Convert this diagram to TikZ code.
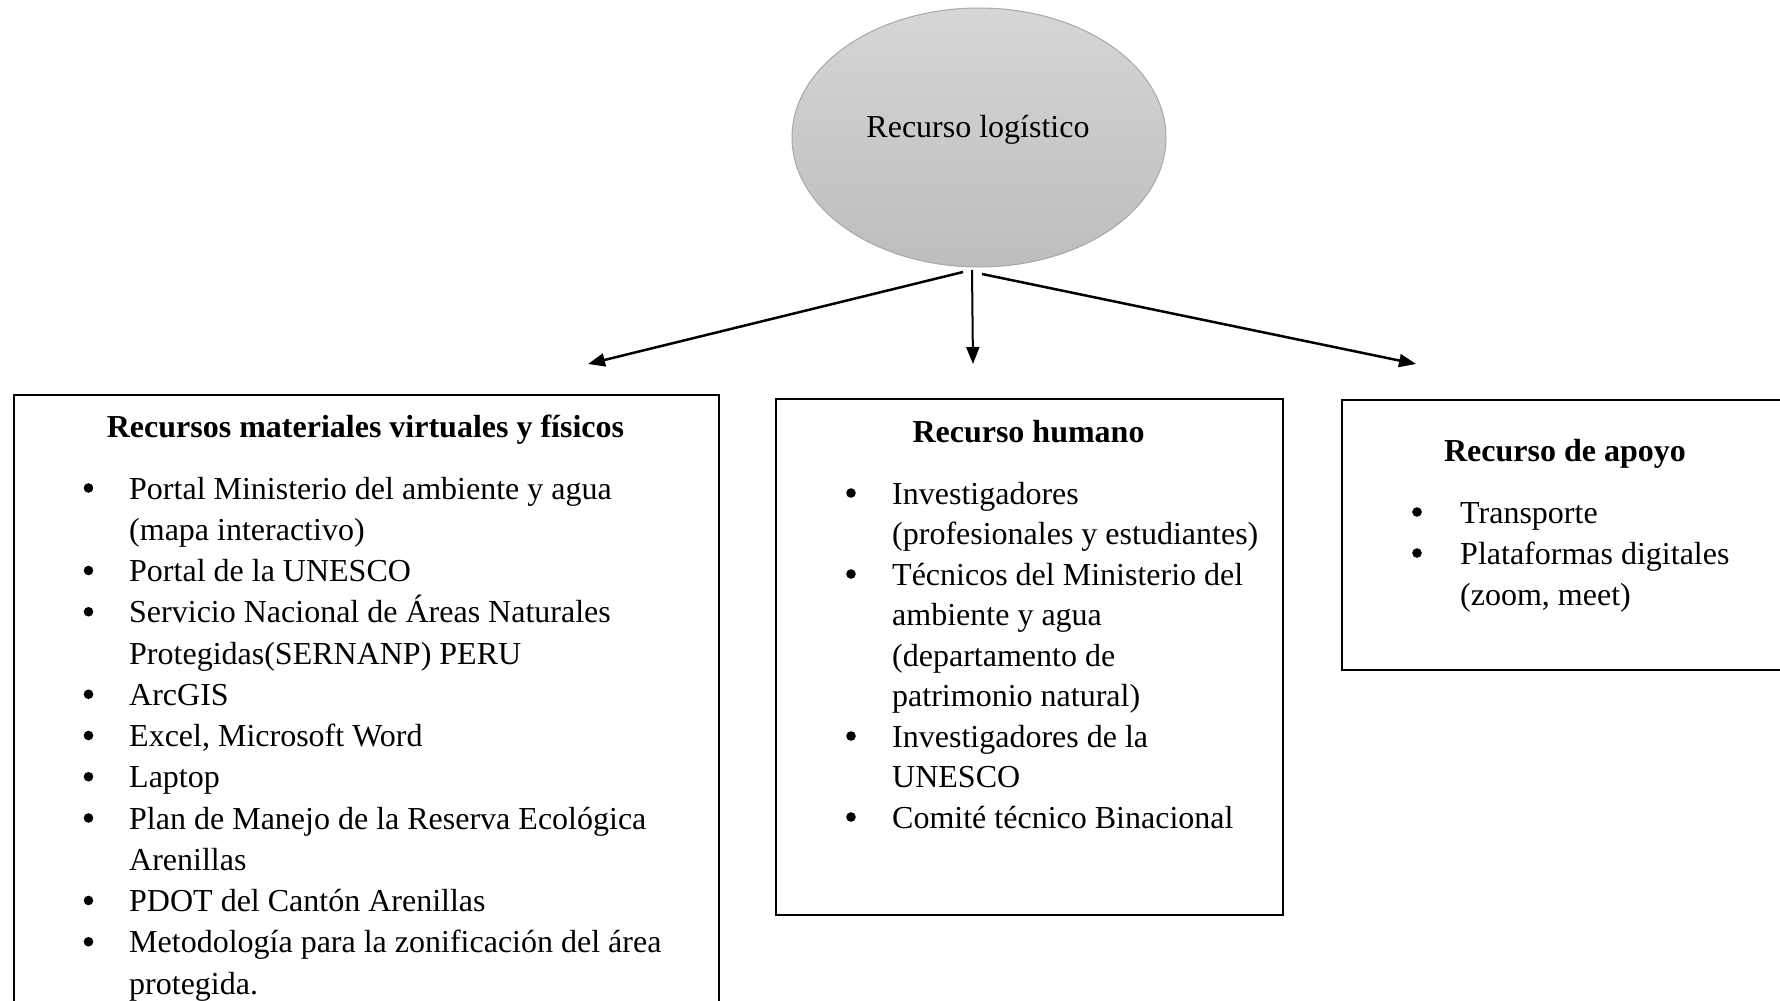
\documentclass[tikz,border=0pt]{standalone}
\usepackage{fontspec}
\setmainfont{Liberation Serif}
\usetikzlibrary{shapes.geometric,arrows.meta}
\definecolor{ellfillA}{HTML}{D6D6D6}
\definecolor{ellfillB}{HTML}{BDBDBD}
\definecolor{ellline}{HTML}{A8A8A8}
\tikzset{
  boxframe/.style={draw=black, line width=2.3pt, inner sep=0pt, anchor=north west},
  txt/.style={anchor=base west, inner sep=0pt, font=\fontsize{32}{40}\selectfont},
  ttl/.style={anchor=base, inner sep=0pt, font=\fontsize{32}{40}\selectfont\bfseries},
  conn/.style={line width=2.5pt, -{Triangle[length=17pt,width=13pt]}},
}
\begin{document}
\begin{tikzpicture}[x=1pt,y=-1pt]
\clip (0,0) rectangle (1780,1001);
\fill[white] (0,0) rectangle (1780,1001);

% ellipse
\node[ellipse, draw=ellline, line width=1pt, top color=ellfillA, bottom color=ellfillB,
      minimum width=374pt, minimum height=259pt, inner sep=0pt] (E) at (979,137.5) {};
\node[anchor=base, inner sep=0pt, font=\fontsize{32}{40}\selectfont] (Elab) at (978,137) {Recurso logístico};

% connector endpoints
\coordinate (s1) at (963,272);
\coordinate (s2) at (972,270);
\coordinate (s3) at (982,274);
\coordinate (t1) at (588,364);
\coordinate (t2) at (973,364);
\coordinate (t3) at (1416,364);
\draw[conn] (s1) -- (t1);
\draw[conn, line width=2pt] (s2) -- (t2);
\draw[conn] (s3) -- (t3);

% boxes
\node[boxframe, minimum width=705pt, minimum height=640pt] (B1) at (13,394) {};
\node[boxframe, minimum width=507pt, minimum height=516pt] (B2) at (775,398) {};
\node[boxframe, minimum width=460pt, minimum height=270pt] (B3) at (1341,399) {};

% titles
\node[ttl] (T1) at (365.5,437) {Recursos materiales virtuales y físicos};
\node[ttl] (T2) at (1028.5,442) {Recurso humano};
\node[ttl] (T3) at (1565,461) {Recurso de apoyo};

% left list
\foreach \b/\t [count=\i from 0] in {
  1/{Portal Ministerio del ambiente y agua},
  0/{(mapa interactivo)},
  1/{Portal de la UNESCO},
  1/{Servicio Nacional de Áreas Naturales},
  0/{Protegidas(SERNANP) PERU},
  1/{ArcGIS},
  1/{Excel, Microsoft Word},
  1/{Laptop},
  1/{Plan de Manejo de la Reserva Ecológica},
  0/{Arenillas},
  1/{PDOT del Cantón Arenillas},
  1/{Metodología para la zonificación del área},
  0/{protegida.}}{
  \pgfmathsetmacro{\yy}{499+41.25*\i}
  \node[txt] (L\i) at (129,\yy) {\t};
  \ifnum\b=1 \fill (88.5,\yy-11) circle (4.8); \fi
}

% middle list
\foreach \b/\t [count=\i from 0] in {
  1/{Investigadores},
  0/{(profesionales y estudiantes)},
  1/{Técnicos del Ministerio del},
  0/{ambiente y agua},
  0/{(departamento de},
  0/{patrimonio natural)},
  1/{Investigadores de la},
  0/{UNESCO},
  1/{Comité técnico Binacional}}{
  \pgfmathsetmacro{\yy}{504+40.5*\i}
  \node[txt] (M\i) at (892,\yy) {\t};
  \ifnum\b=1 \fill (851,\yy-11) circle (4.8); \fi
}

% right list
\foreach \b/\t [count=\i from 0] in {
  1/{Transporte},
  1/{Plataformas digitales},
  0/{(zoom, meet)}}{
  \pgfmathsetmacro{\yy}{523+41*\i}
  \node[txt] (R\i) at (1460,\yy) {\t};
  \ifnum\b=1 \fill (1417,\yy-11) circle (4.8); \fi
}
\end{tikzpicture}
\end{document}
